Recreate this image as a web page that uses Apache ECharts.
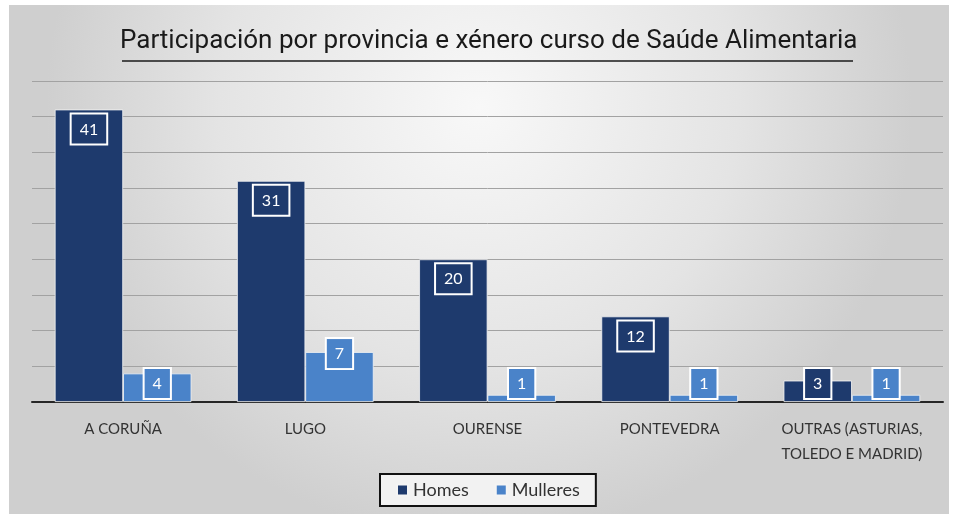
<!DOCTYPE html>
<html>
<head>
<meta charset="utf-8">
<script src="https://cdn.jsdelivr.net/npm/echarts@6/dist/echarts.min.js"></script>
<style>
  html, body { margin: 0; padding: 0; background: #fff; }
  #marco { width: 955px; height: 514px; background: #fff; position: relative; }
  #myChart { position: absolute; left: 9px; top: 5px; width: 940px; height: 509px; }
</style>
</head>
<body>
<div id="marco"><div id="myChart"></div></div>
<script>
// datos
var provincias = ['A CORUÑA', 'LUGO', 'OURENSE', 'PONTEVEDRA', 'OUTRAS (ASTURIAS,\nTOLEDO E MADRID)'];
var homes = [41, 31, 20, 12, 3];
var mulleres = [4, 7, 1, 1, 1];

var azulHomes = '#1e3a6d';
var azulMulleres = '#4a83c9';

// etiqueta tipo Excel: dentro do extremo, ou abaixo se a barra é curta
function etiquetas(valores) {
  return valores.map(function (v) {
    var label;
    if (v <= 4) {
      label = { position: 'insideBottom', distance: 4 };
    } else if (v < 10) {
      label = { position: 'top', distance: -16 };
    } else {
      label = { position: 'insideTop', distance: 5 };
    }
    return { value: v, label: label };
  });
}

var myChart = echarts.init(document.getElementById('myChart'));
var labelBase = {
  show: true,
  color: '#fff',
  fontFamily: 'Lato',
  fontSize: 16,
  borderColor: '#fff',
  borderWidth: 2,
  padding: [7, 8, 6, 8]
};

var option = {
  backgroundColor: {
    type: 'radial', x: 0.5, y: 0.2, r: 0.85,
    colorStops: [
      { offset: 0, color: '#f8f8f8' },
      { offset: 0.6, color: '#e4e4e4' },
      { offset: 1, color: '#cfcfcf' }
    ]
  },
  title: {
    text: 'Participación por provincia e xénero curso de Saúde Alimentaria',
    left: 111,
    top: 23,
    padding: 0,
    textStyle: {
      fontFamily: 'Roboto',
      fontSize: 26,
      fontWeight: 'normal',
      color: '#1a1a1a'
    }
  },
  graphic: [{
    type: 'line',
    shape: { x1: 113, y1: 56, x2: 844, y2: 56 },
    style: { stroke: '#1a1a1a', lineWidth: 1.5 }
  }],
  legend: {
    data: ['Homes', 'Mulleres'],
    bottom: 8,
    left: 371,
    itemWidth: 11,
    itemHeight: 11,
    itemGap: 26,
    icon: 'rect',
    borderColor: '#111',
    borderWidth: 2,
    backgroundColor: '#f2f2f2',
    padding: [7, 16, 7, 16],
    textStyle: { fontFamily: 'Lato', fontSize: 18, color: '#333' }
  },
  grid: { left: 23, right: 6, top: 76, bottom: 112 },
  xAxis: {
    type: 'category',
    data: provincias,
    axisLine: { lineStyle: { color: '#262626', width: 2 } },
    axisTick: { show: false },
    axisLabel: {
      fontFamily: 'Lato',
      fontSize: 15,
      color: '#333',
      margin: 15,
      lineHeight: 25,
      interval: 0
    }
  },
  yAxis: {
    type: 'value',
    min: 0,
    max: 45,
    interval: 5,
    axisLine: { show: false },
    axisTick: { show: false },
    axisLabel: { show: false },
    splitLine: { lineStyle: { color: '#a2a2a2', width: 1 } }
  },
  series: [{
    name: 'Homes',
    type: 'bar',
    data: etiquetas(homes),
    barGap: '0%',
    barCategoryGap: '25%',
    itemStyle: { color: azulHomes, borderColor: '#f4f4f4', borderWidth: 0.8 },
    label: Object.assign({ backgroundColor: azulHomes }, labelBase)
  }, {
    name: 'Mulleres',
    type: 'bar',
    data: etiquetas(mulleres),
    itemStyle: { color: azulMulleres, borderColor: '#f4f4f4', borderWidth: 0.8 },
    label: Object.assign({ backgroundColor: azulMulleres }, labelBase)
  }]
};
myChart.setOption(option);
</script>
</body>
</html>
